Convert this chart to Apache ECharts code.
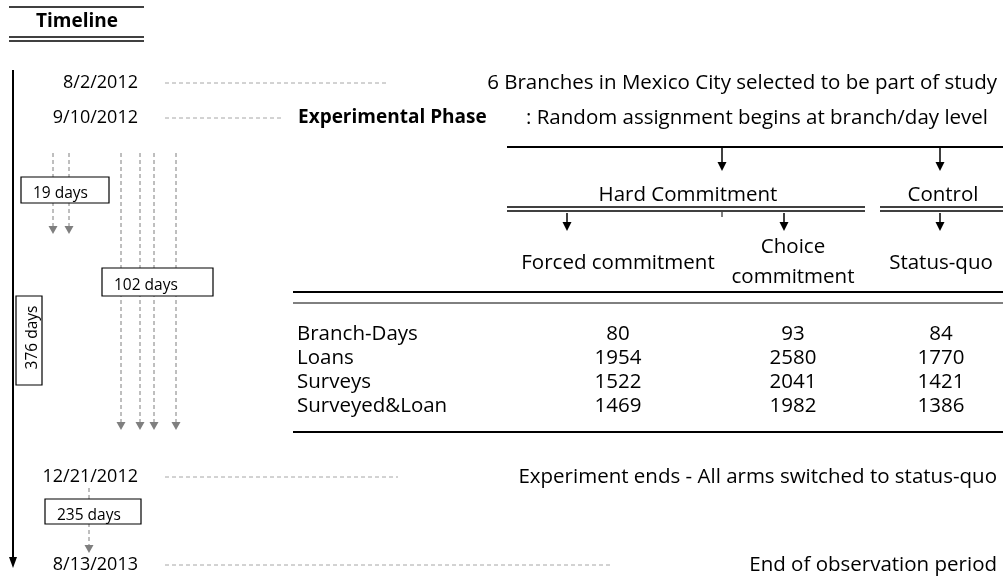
<!DOCTYPE html>
<html>
<head>
<meta charset="utf-8">
<title>Timeline</title>
<script src="https://cdn.jsdelivr.net/npm/echarts@6.0.0/dist/echarts.min.js"></script>
<style>
  html, body { margin: 0; padding: 0; background: #fff; }
  #main { width: 1003px; height: 577px; }
</style>
</head>
<body>
<div id="main"></div>
<script>
// ---- data ----
const chartTitle = 'Timeline';
const eventDates = ['8/2/2012', '9/10/2012', '12/21/2012', '8/13/2013'];
const eventNotes = [
  '6 Branches in Mexico City selected to be part of study',
  ': Random assignment begins at branch/day level',
  'Experiment ends - All arms switched to status-quo',
  'End of observation period'
];
const phaseName = 'Experimental Phase';
const durations = ['19 days', '102 days', '376 days', '235 days'];

const armGroups = ['Hard Commitment', 'Control'];
const arms = ['Forced commitment', 'Choice\ncommitment', 'Status-quo'];

const rowNames = ['Branch-Days', 'Loans', 'Surveys', 'Surveyed&Loan'];
const forcedValues = [80, 1954, 1522, 1469];
const choiceValues = [93, 2580, 2041, 1982];
const statusQuoValues = [84, 1770, 1421, 1386];

// ---- layout (canvas units, mapped through the hidden axes) ----
const eventY = [83, 118, 477, 565];
const dateRight = 138;
const noteRight = [997, 988, 997, 997];
const leaderStart = 165;
const leaderEnd = [388, 283, 398, 610];
const phaseX = 298;

const boxes = [
  { x: 21, y: 177, w: 88, h: 26 },
  { x: 102, y: 268, w: 111, h: 28 },
  { x: 16, y: 296, w: 26, h: 89, vertical: true },
  { x: 45, y: 499, w: 96, h: 25 }
];
const gapArrows = [
  { x: 53, y0: 153, tip: 234 },
  { x: 69, y0: 153, tip: 234 },
  { x: 121, y0: 153, tip: 430 },
  { x: 140, y0: 153, tip: 430 },
  { x: 154, y0: 153, tip: 430 },
  { x: 176, y0: 153, tip: 430 },
  { x: 89, y0: 488, tip: 553 }
];

const armArrowX = [567, 784, 940];
const armX = [618, 793, 941];
const groupX = [688, 943];
const groupArrowX = [722, 940];
const rowY0 = 334;
const rowStep = 24;
const rowLabelX = 297;

const FONT = '"Open Sans", sans-serif';
const FS = 20.5;
const DASH_GREY = '#a6a6a6';
const ARROW_GREY = '#7f7f7f';

var myChart = echarts.init(document.getElementById('main'));

function label(p, str, opt) {
  opt = opt || {};
  const style = {
    text: str,
    fill: '#000',
    fontFamily: FONT,
    fontSize: opt.size || FS,
    fontWeight: opt.weight || 'normal',
    align: opt.align || 'center',
    verticalAlign: 'middle'
  };
  if (opt.lineHeight) style.lineHeight = opt.lineHeight;
  return { type: 'text', x: p[0], y: p[1], rotation: opt.rotation || 0, style: style };
}

function seg(a, b, width, color, dash) {
  const style = { stroke: color || '#000', lineWidth: width || 1 };
  if (dash) style.lineDash = dash;
  return { type: 'line', shape: { x1: a[0], y1: a[1], x2: b[0], y2: b[1] }, style: style };
}

function head(api, x, tip, w, h, color) {
  return {
    type: 'polygon',
    shape: { points: [api.coord([x - w / 2, tip - h]), api.coord([x + w / 2, tip - h]), api.coord([x, tip])] },
    style: { fill: color }
  };
}

function arrow(api, x, y0, tip, color, dash) {
  return [
    seg(api.coord([x, y0]), api.coord([x, tip - 7]), dash ? 1 : 1.5, color, dash),
    head(api, x, tip, 9, dash ? 8 : 9, color)
  ];
}

function renderFrame(params, api) {
  const c = (x, y) => api.coord([x, y]);
  return {
    type: 'group',
    children: [
      seg(c(9, 7), c(144, 7), 1.5),
      label(c(77, 22), chartTitle, { weight: 'bold', size: 19 }),
      seg(c(9, 37), c(144, 37), 1.5),
      seg(c(9, 41), c(144, 41), 1.5),
      seg(c(13, 70), c(13, 559), 2),
      head(api, 13, 568, 8, 11, '#000')
    ]
  };
}

function renderEvent(params, api) {
  const i = api.value(0);
  const y = eventY[i];
  const kids = [
    label(api.coord([dateRight, y]), eventDates[i], { align: 'right', size: 18 }),
    seg(api.coord([leaderStart, y]), api.coord([leaderEnd[i], y]), 1, DASH_GREY, [4, 3]),
    label(api.coord([noteRight[i], y]), eventNotes[i], { align: 'right' })
  ];
  if (i === 1) kids.push(label(api.coord([phaseX, y]), phaseName, { align: 'left', weight: 'bold', size: 19 }));
  return { type: 'group', children: kids };
}

function renderGap(params, api) {
  const g = gapArrows[api.value(0)];
  return { type: 'group', children: arrow(api, g.x, g.y0, g.tip, ARROW_GREY, [4, 3]) };
}

function renderBox(params, api) {
  const i = api.value(0);
  const b = boxes[i];
  const tl = api.coord([b.x, b.y]);
  const br = api.coord([b.x + b.w, b.y + b.h]);
  const rect = {
    type: 'rect',
    shape: { x: tl[0], y: tl[1], width: br[0] - tl[0], height: br[1] - tl[1] },
    style: { fill: '#fff', stroke: '#000', lineWidth: 1.2 }
  };
  const t = b.vertical
    ? label(api.coord([b.x + b.w / 2 + 4, b.y + b.h / 2 - 3]), durations[i], { size: 15.5, rotation: Math.PI / 2 })
    : label(api.coord([b.x + 12, b.y + b.h / 2 + 4]), durations[i], { size: 15.5, align: 'left' });
  return { type: 'group', children: [rect, t] };
}

function renderTree(params, api) {
  const c = (x, y) => api.coord([x, y]);
  let kids = [
    seg(c(507, 147), c(1003, 147), 2),
    seg(c(507, 207), c(865, 207), 1.5),
    seg(c(507, 211), c(865, 211), 1.5),
    seg(c(880, 207), c(1003, 207), 1.5),
    seg(c(880, 211), c(1003, 211), 1.5),
    seg(c(722, 212), c(722, 217), 1),
    label(c(groupX[0], 195), armGroups[0]),
    label(c(groupX[1], 195), armGroups[1]),
    label(c(armX[0], 263), arms[0]),
    label(c(armX[1], 262), arms[1], { lineHeight: 30 }),
    label(c(armX[2], 263), arms[2]),
    // table rules
    seg(c(293, 292), c(1003, 292), 2),
    seg(c(293, 303), c(1003, 303), 1),
    seg(c(293, 432), c(1003, 432), 2)
  ];
  groupArrowX.forEach(function (x) {
    kids = kids.concat(arrow(api, x, 148, 171, '#000'));
  });
  armArrowX.forEach(function (x) {
    kids = kids.concat(arrow(api, x, 213, 231, '#000'));
  });
  return { type: 'group', children: kids };
}

function renderRowName(params, api) {
  const r = api.value(0);
  return label(api.coord([rowLabelX, rowY0 + r * rowStep]), rowNames[r], { align: 'left' });
}

function renderCell(params, api) {
  const col = api.value(0);
  const r = api.value(1);
  return label(api.coord([armX[col], rowY0 + r * rowStep]), String(api.value(2)));
}

const cells = [];
rowNames.forEach(function (name, r) {
  cells.push([0, r, forcedValues[r]]);
  cells.push([1, r, choiceValues[r]]);
  cells.push([2, r, statusQuoValues[r]]);
});

const option = {
  animation: false,
  backgroundColor: '#fff',
  grid: { left: 0, right: 0, top: 0, bottom: 0 },
  xAxis: { type: 'value', min: 0, max: 1003, show: false },
  yAxis: { type: 'value', min: 0, max: 577, inverse: true, show: false },
  series: [
    { type: 'custom', name: 'frame', clip: false, renderItem: renderFrame, data: [[0]] },
    { type: 'custom', name: 'events', clip: false, renderItem: renderEvent, data: eventDates.map((d, i) => [i]) },
    { type: 'custom', name: 'gaps', clip: false, renderItem: renderGap, data: gapArrows.map((g, i) => [i]) },
    { type: 'custom', name: 'durations', clip: false, z: 3, renderItem: renderBox, data: durations.map((d, i) => [i]) },
    { type: 'custom', name: 'arms', clip: false, renderItem: renderTree, data: [[0]] },
    { type: 'custom', name: 'rows', clip: false, renderItem: renderRowName, data: rowNames.map((n, r) => [r]) },
    { type: 'custom', name: 'cells', clip: false, renderItem: renderCell, data: cells }
  ]
};

myChart.setOption(option);
</script>
</body>
</html>
